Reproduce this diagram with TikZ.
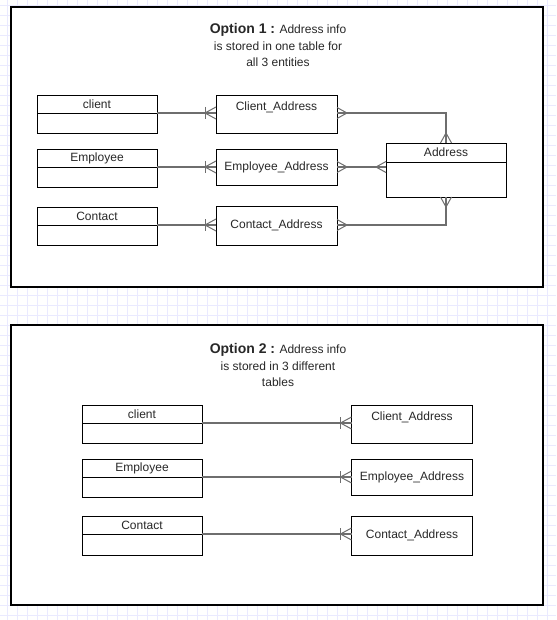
\documentclass[tikz,border=0pt]{standalone}
\usepackage{fontspec}
\setmainfont{Liberation Sans}
\usetikzlibrary{positioning}

\definecolor{corgrade}{RGB}{234,234,255}
\definecolor{corlig}{RGB}{110,110,110}
\definecolor{cortexto}{RGB}{40,40,40}

\tikzset{
  pe/.pic={\draw[pata] (0pt,5.5pt) -- (-10pt,0pt) -- (0pt,-5.5pt);},
  pebarra/.pic={\draw[pata] (0pt,6pt) -- (-11pt,0pt) -- (0pt,-6pt);
                \draw[pata] (-11pt,6pt) -- (-11pt,-6pt);}
}

\begin{document}
\begin{tikzpicture}[x=1pt,y=-1pt,
    grade/.style={draw=corgrade, line width=0.6pt},
    painel/.style={draw=black, fill=white, line width=1.2pt},
    cab/.style={draw=black, line width=0.8pt, minimum width=120pt, minimum height=18pt,
                inner sep=0pt, outer sep=0pt, font=\fontsize{12}{14}\selectfont, text=cortexto},
    corpo/.style={draw=black, line width=0.8pt, minimum width=120pt, minimum height=20pt,
                inner sep=0pt, outer sep=0pt},
    tabela/.style={draw=black, line width=0.8pt, minimum width=121pt,
                inner sep=0pt, outer sep=0pt, font=\fontsize{12}{14}\selectfont, text=cortexto},
    rotulo/.style={font=\fontsize{12}{14}\selectfont, text=cortexto},
    titulo/.style={align=center, font=\fontsize{12}{16.5}\selectfont, text=cortexto},
    lig/.style={draw=corlig, line width=1.5pt},
    pata/.style={draw=corlig, line width=1pt, line join=round}
  ]
  \useasboundingbox (0,0) rectangle (556,620);
  \fill[white] (0,0) rectangle (556,620);

  % Grade de fundo
  \foreach \gx in {7,17,...,547}
    \draw[grade] (\gx,0) -- (\gx,620);
  \foreach \gy in {5,15,...,615}
    \draw[grade] (0,\gy) -- (556,\gy);

  % Paineis
  \draw[painel] (11,7) rectangle (543,287);
  \draw[painel] (11,325) rectangle (543,605);

  % Opcao 1
  \node[titulo] (tit1) at (278,45) {{\fontsize{14}{16}\selectfont\bfseries Option 1 :} Address info\\
    is stored in one table for\\ all 3 entities};

  \node[cab] (cli1) at (97,104) {client};
  \node[corpo, below=0pt of cli1] (cli1b) {};
  \node[cab] (emp1) at (97,158) {Employee};
  \node[corpo, below=0pt of emp1] (emp1b) {};
  \node[cab] (ctc1) at (97,216) {Contact};
  \node[corpo, below=0pt of ctc1] (ctc1b) {};

  \node[tabela, minimum height=38pt,
        label={[rotulo, anchor=center, yshift=-12pt]north:Client\_Address}] (cadr1) at (276.5,114) {};
  \node[tabela, minimum height=36pt] (eadr1) at (276.5,167) {Employee\_Address};
  \node[tabela, minimum height=39pt] (ctadr1) at (276.5,225.5) {Contact\_Address};

  \node[cab, minimum height=19pt] (adr) at (446,152.5) {Address};
  \node[corpo, minimum height=35pt, below=0pt of adr] (adrb) {};

  % Ligacoes da opcao 1
  \draw[lig] (cli1.south east) -- (cli1.south east -| cadr1.west);
  \draw[lig] (emp1.south east) -- (emp1.south east -| eadr1.west);
  \draw[lig] (ctc1.south east) -- (ctc1.south east -| ctadr1.west);
  \draw[lig] (cli1.south east -| cadr1.east) -| (adr.north);
  \draw[lig] (emp1.south east -| eadr1.east) -- (emp1.south east -| adrb.west);
  \draw[lig] (ctc1.south east -| ctadr1.east) -| (adrb.south);

  \pic at (cli1.south east -| cadr1.west) {pebarra};
  \pic at (emp1.south east -| eadr1.west) {pebarra};
  \pic at (ctc1.south east -| ctadr1.west) {pebarra};
  \pic[rotate=180] at (cli1.south east -| cadr1.east) {pe};
  \pic[rotate=180] at (emp1.south east -| eadr1.east) {pe};
  \pic[rotate=180] at (ctc1.south east -| ctadr1.east) {pe};
  \pic[rotate=-90] at (adr.north) {pe};
  \pic at (emp1.south east -| adrb.west) {pe};
  \pic[rotate=90] at (adrb.south) {pe};

  % Opcao 2
  \node[titulo] (tit2) at (278,365) {{\fontsize{14}{16}\selectfont\bfseries Option 2 :} Address info\\
    is stored in 3 different\\ tables};

  \node[cab] (cli2) at (142,414) {client};
  \node[corpo, below=0pt of cli2] (cli2b) {};
  \node[cab] (emp2) at (142,468) {Employee};
  \node[corpo, below=0pt of emp2] (emp2b) {};
  \node[cab] (ctc2) at (142,525) {Contact};
  \node[corpo, minimum height=21pt, below=0pt of ctc2] (ctc2b) {};

  \node[tabela, minimum height=38pt,
        label={[rotulo, anchor=center, yshift=-12pt]north:Client\_Address}] (cadr2) at (412,424) {};
  \node[tabela, minimum height=36pt] (eadr2) at (412,477) {Employee\_Address};
  \node[tabela, minimum height=39pt] (ctadr2) at (412,535.5) {Contact\_Address};

  % Ligacoes da opcao 2
  \draw[lig] (cli2.south east) -- (cli2.south east -| cadr2.west);
  \draw[lig] (emp2.south east) -- (emp2.south east -| eadr2.west);
  \draw[lig] (ctc2.south east) -- (ctc2.south east -| ctadr2.west);

  \pic at (cli2.south east -| cadr2.west) {pebarra};
  \pic at (emp2.south east -| eadr2.west) {pebarra};
  \pic at (ctc2.south east -| ctadr2.west) {pebarra};
\end{tikzpicture}
\end{document}
